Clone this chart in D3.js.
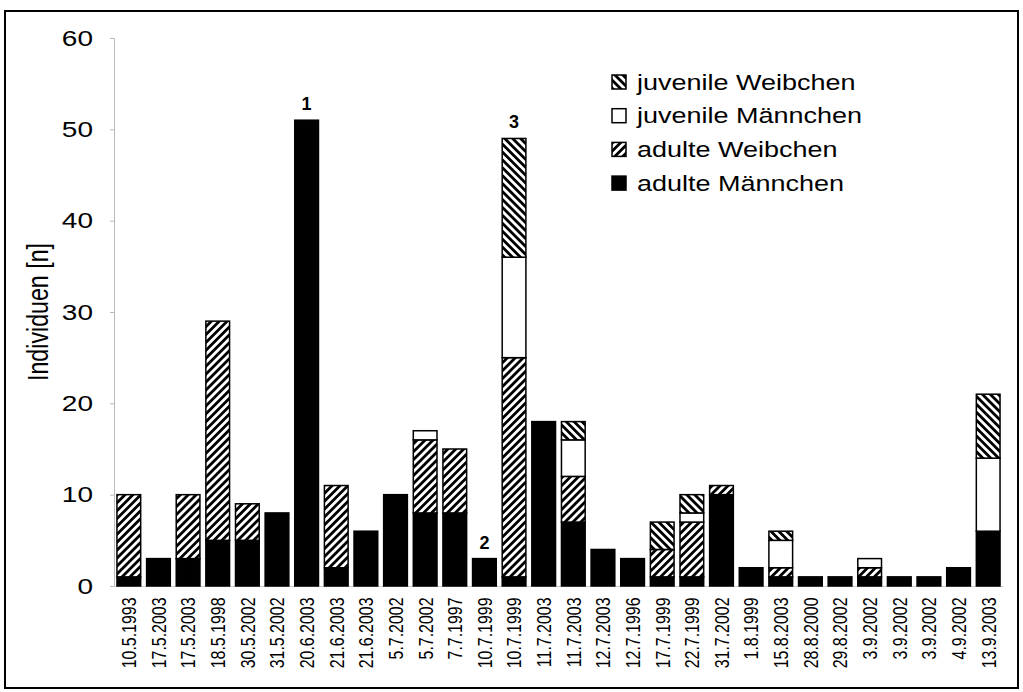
<!DOCTYPE html>
<html>
<head>
<meta charset="utf-8">
<script src="https://cdn.jsdelivr.net/npm/d3@7"></script>
<style>
  body { margin: 0; background: #fff; }
  svg { display: block; font-family: "Liberation Sans", Arial, sans-serif; }
</style>
</head>
<body>
<svg id="chart" width="1023" height="692"></svg>
<script>
// data
const dates = ['10.5.1993', '17.5.2003', '17.5.2003', '18.5.1998', '30.5.2002', '31.5.2002',
    '20.6.2003', '21.6.2003', '21.6.2003', '5.7.2002', '5.7.2002', '7.7.1997', '10.7.1999',
    '10.7.1999', '11.7.2003', '11.7.2003', '12.7.2003', '12.7.1996', '17.7.1999', '22.7.1999',
    '31.7.2002', '1.8.1999', '15.8.2003', '28.8.2000', '29.8.2002', '3.9.2002', '3.9.2002',
    '3.9.2002', '4.9.2002', '13.9.2003']
const adultM = [1, 3, 3, 5, 5, 8, 51, 2, 6, 10, 8, 8, 3, 1, 18, 7, 4, 3, 1, 1, 10, 2, 1, 1, 1, 1, 1, 1, 2, 6]
const adultW = [9, 0, 7, 24, 4, 0, 0, 9, 0, 0, 8, 7, 0, 24, 0, 5, 0, 0, 3, 6, 1, 0, 1, 0, 0, 1, 0, 0, 0, 0]
const juvM = [0, 0, 0, 0, 0, 0, 0, 0, 0, 0, 1, 0, 0, 11, 0, 4, 0, 0, 0, 1, 0, 0, 3, 0, 0, 1, 0, 0, 0, 8]
const juvW = [0, 0, 0, 0, 0, 0, 0, 0, 0, 0, 0, 0, 0, 13, 0, 2, 0, 0, 3, 2, 0, 0, 1, 0, 0, 0, 0, 0, 0, 7]
const yTicks = [0, 10, 20, 30, 40, 50, 60]
const noteIdx = [6, 12, 13]
const noteText = ['1', '2', '3']

const seriesKeys = ['adultM', 'adultW', 'juvM', 'juvW']
const seriesNames = {
    juvW: 'juvenile Weibchen',
    juvM: 'juvenile Männchen',
    adultW: 'adulte Weibchen',
    adultM: 'adulte Männchen'
}

const squash = 0.8   // the scanned original is a bit squeezed vertically

const svg = d3.select('#chart')

const rows = dates.map((d, i) => ({
    id: i, date: d,
    adultM: adultM[i], adultW: adultW[i], juvM: juvM[i], juvW: juvW[i]
}))

const margin = { left: 114, right: 1003, top: 38, bottom: 586 }

const x = d3.scaleBand()
    .domain(rows.map(d => d.id))
    .range([margin.left, margin.right])
    .paddingInner(0.2)
    .paddingOuter(0.1)

const y = d3.scaleLinear()
    .domain([0, 60])
    .range([margin.bottom, margin.top])

// hatch patterns
const defs = svg.append('defs')
const hatch = (id, angle) => {
    const p = defs.append('pattern')
        .attr('id', id)
        .attr('patternUnits', 'userSpaceOnUse')
        .attr('width', 5.6)
        .attr('height', 5.6)
        .attr('patternTransform', 'rotate(' + angle + ')')
    p.append('rect').attr('width', 5.6).attr('height', 5.6).attr('fill', '#fff')
    p.append('line')
        .attr('x1', 1.4).attr('x2', 1.4)
        .attr('y1', 0).attr('y2', 5.6)
        .attr('stroke', '#000')
        .attr('stroke-width', 2.8)
}
hatch('hatchA', 45)
hatch('hatchJ', -45)

const fills = {
    adultM: '#000',
    adultW: 'url(#hatchA)',
    juvM: '#fff',
    juvW: 'url(#hatchJ)'
}

// outer frame
svg.append('rect')
    .attr('x', 5).attr('y', 11)
    .attr('width', 1013).attr('height', 677)
    .attr('fill', 'none')
    .attr('stroke', '#000')
    .attr('stroke-width', 2)

// y axis (faint in the original)
const yAxis = svg.append('g')
    .attr('transform', 'translate(' + margin.left + ',0)')
    .call(d3.axisLeft(y).tickValues(yTicks).tickSize(4).tickPadding(17))
yAxis.select('.domain').attr('stroke', '#bbb')
yAxis.selectAll('.tick line').attr('stroke', '#bbb')
yAxis.selectAll('.tick text')
    .attr('fill', '#000')
    .style('font-size', '28px')
    .attr('transform', 'scale(1,' + squash + ')')

// x axis
const xAxis = svg.append('g')
    .attr('transform', 'translate(0,' + margin.bottom + ')')
    .call(d3.axisBottom(x).tickFormat(i => dates[i]).tickSize(0))
xAxis.select('.domain').attr('stroke', '#ccc')
xAxis.selectAll('.tick text')
    .attr('fill', '#000')
    .style('font-size', '21px')
    .attr('text-anchor', 'end')
    .attr('x', -15)
    .attr('y', 0)
    .attr('dy', '0.35em')
    .attr('transform', 'scale(1,' + (squash * 0.95) + ') rotate(-90)')

// y title
svg.append('g')
    .attr('transform', 'translate(38,312) scale(1,' + squash + ') rotate(-90)')
    .append('text')
    .attr('text-anchor', 'middle')
    .attr('dy', '0.35em')
    .style('font-size', '29px')
    .text('Individuen [n]')

// stacked bars
const stacked = d3.stack().keys(seriesKeys)(rows)

svg.append('g')
    .selectAll('g')
    .data(stacked)
    .enter().append('g')
    .attr('fill', d => fills[d.key])
    .selectAll('rect')
    .data(d => d.filter(s => s[1] > s[0]))
    .enter().append('rect')
    .attr('x', d => x(d.data.id))
    .attr('width', x.bandwidth())
    .attr('y', d => y(d[1]))
    .attr('height', d => y(d[0]) - y(d[1]))
    .attr('stroke', '#000')
    .attr('stroke-width', 1.5)

// numbered notes above bars
svg.append('g')
    .selectAll('text')
    .data(noteIdx)
    .enter().append('text')
    .attr('x', i => x(i) + x.bandwidth() / 2)
    .attr('y', i => y(adultM[i] + adultW[i] + juvM[i] + juvW[i]) - 10)
    .attr('text-anchor', 'middle')
    .style('font-size', '18px')
    .style('font-weight', '600')
    .text((i, k) => noteText[k])

// legend
const legendKeys = ['juvW', 'juvM', 'adultW', 'adultM']
const legend = svg.append('g')
    .attr('class', 'legend')
    .selectAll('g')
    .data(legendKeys)
    .enter().append('g')
    .attr('transform', (d, i) => 'translate(612,' + (82 + i * 33.7) + ')')

legend.append('rect')
    .attr('x', 0)
    .attr('y', -7)
    .attr('width', 14)
    .attr('height', 14)
    .attr('fill', d => fills[d])
    .attr('stroke', '#000')
    .attr('stroke-width', 1.5)

legend.append('g')
    .attr('transform', 'translate(25,0) scale(1,' + squash + ')')
    .append('text')
    .attr('dy', '0.35em')
    .style('font-size', '27px')
    .text(d => seriesNames[d])
</script>
</body>
</html>
